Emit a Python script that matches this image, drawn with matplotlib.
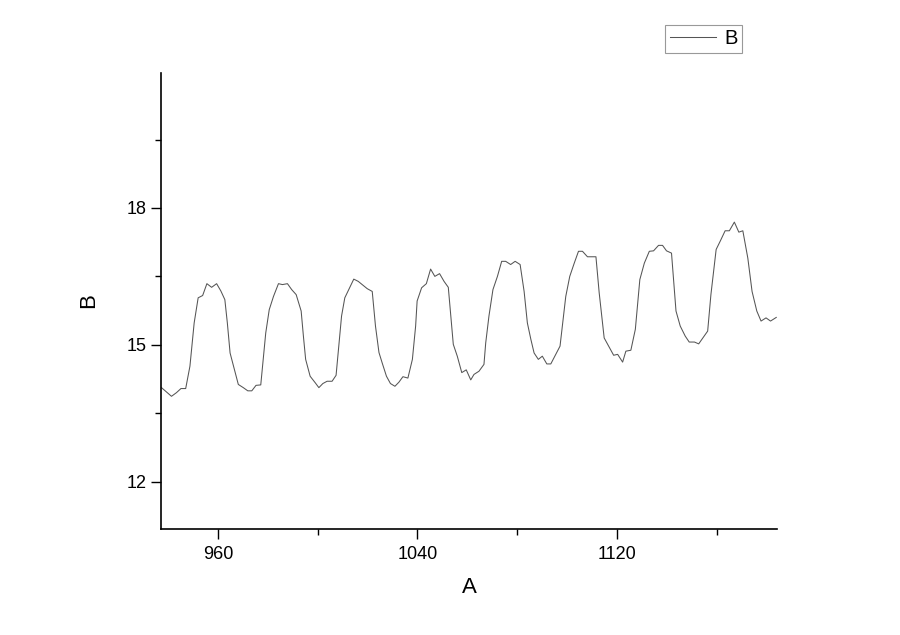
import matplotlib
matplotlib.use("Agg")
import matplotlib.pyplot as plt
from matplotlib.ticker import MultipleLocator

plt.rcParams['font.family'] = ['Liberation Sans', 'DejaVu Sans']

A = [937.4, 941.4, 943.4, 945.2, 947.1, 948.8, 950.5, 952.1, 953.9, 955.6,
     957.5, 959.5, 961.2, 962.8, 963.8, 964.9, 966.6, 968.2, 970.2, 972.0,
     973.6, 975.3, 977.2, 978.2, 979.2, 980.6, 982.3, 984.3, 985.9, 987.9,
     989.6, 991.4, 993.4, 994.3, 995.2, 997.0, 999.0,
     1000.5, 1002.1, 1003.8, 1005.8, 1007.4, 1008.5, 1009.6, 1010.9, 1012.5,
     1014.5, 1016.3, 1017.9, 1019.9, 1021.9, 1023.2, 1024.6, 1025.9, 1027.6,
     1029.2, 1031.0, 1032.6, 1034.2, 1036.2, 1038.0, 1039.3, 1039.9, 1041.7,
     1043.6, 1045.3, 1047.0, 1048.9, 1050.7, 1052.4, 1053.3, 1054.4, 1056.0,
     1057.8, 1059.6, 1061.4,
     1062.7, 1064.7, 1066.7, 1067.4, 1068.7, 1070.3, 1072.1, 1073.8, 1075.4,
     1077.4, 1079.2, 1081.2, 1082.8, 1084.1, 1085.5, 1086.8, 1088.5, 1090.1,
     1091.9, 1093.5, 1095.5, 1097.2, 1098.6, 1099.5, 1101.1, 1102.9, 1104.6,
     1106.2, 1108.2, 1110.0, 1111.6, 1112.9, 1114.9, 1116.7, 1118.7, 1120.3,
     1122.3,
     1123.6, 1125.6, 1127.4, 1129.2, 1131.0, 1133.0, 1134.7, 1136.7, 1138.3,
     1139.9, 1141.9, 1142.8, 1143.7, 1145.4, 1147.4, 1149.0, 1151.1, 1152.8,
     1154.7, 1156.4, 1157.7, 1159.8, 1161.5, 1163.4, 1165.1, 1167.1, 1168.9,
     1170.5, 1172.5, 1174.2, 1176.1, 1177.8, 1179.8, 1181.6, 1183.9]

B = [14.06, 13.87, 13.95, 14.04, 14.04, 14.53, 15.48, 16.03, 16.08, 16.34,
     16.26, 16.34, 16.18, 15.99, 15.48, 14.82, 14.46, 14.13, 14.06, 13.99,
     13.99, 14.11, 14.12, 14.68, 15.26, 15.77, 16.06, 16.34, 16.32, 16.34,
     16.21, 16.10, 15.74, 15.19, 14.68, 14.31, 14.17,
     14.06, 14.15, 14.20, 14.20, 14.33, 14.97, 15.63, 16.03, 16.21,
     16.44, 16.39, 16.32, 16.23, 16.17, 15.41, 14.83, 14.60, 14.31,
     14.15, 14.09, 14.18, 14.30, 14.27, 14.68, 15.41, 15.96, 16.25,
     16.34, 16.66, 16.50, 16.56, 16.39, 16.26, 15.70, 15.01, 14.75,
     14.39, 14.45, 14.23,
     14.35, 14.42, 14.57, 15.04, 15.63, 16.21, 16.50, 16.83, 16.83,
     16.76, 16.83, 16.76, 16.17, 15.48, 15.12, 14.82, 14.68, 14.75,
     14.58, 14.58, 14.79, 14.97, 15.63, 16.06, 16.50, 16.79, 17.05,
     17.05, 16.93, 16.93, 16.93, 16.14, 15.15, 14.97, 14.77, 14.79,
     14.62,
     14.86, 14.88, 15.34, 16.43, 16.79, 17.05, 17.06, 17.18, 17.18,
     17.06, 17.01, 16.39, 15.74, 15.41, 15.19, 15.06, 15.06, 15.02,
     15.17, 15.30, 16.10, 17.09, 17.28, 17.50, 17.50, 17.69, 17.47,
     17.50, 16.90, 16.17, 15.74, 15.52, 15.59, 15.52, 15.60]

x_ticks = [960, 1040, 1120]
y_ticks = [12, 15, 18]

fig = plt.figure(figsize=(9, 6.35), dpi=100)
ax = fig.add_axes([161/900, 1 - 529/635, (777 - 161)/900, (529 - 73)/635])

ax.plot(A, B, color='#555555', lw=0.75, label='B')

ax.set_xlim(937.2, 1184.2)
ax.set_ylim(10.96, 20.96)
ax.set_xticks(x_ticks)
ax.set_yticks(y_ticks)
ax.xaxis.set_minor_locator(MultipleLocator(40))
ax.yaxis.set_minor_locator(MultipleLocator(1.5))

for s in ['top', 'right']:
    ax.spines[s].set_visible(False)
for s in ['left', 'bottom']:
    ax.spines[s].set_linewidth(1.2)
    ax.spines[s].set_color('black')

ax.tick_params(which='major', direction='out', length=7.5, width=1.0, labelsize=13)
ax.tick_params(which='minor', direction='out', length=4.5, width=1.0)
ax.tick_params(axis='x', which='major', pad=4.5)
ax.tick_params(axis='y', which='major', pad=3)

ax.set_xlabel('A', fontsize=16, labelpad=10)
ax.set_ylabel('B', fontsize=16, labelpad=20)

leg = ax.legend(loc='upper right', bbox_to_anchor=(742/900, 1 - 25/635),
                bbox_transform=fig.transFigure, frameon=True, fancybox=False,
                fontsize=14.5, handlelength=2.3, handletextpad=0.4,
                borderpad=0.22, borderaxespad=0)
leg.get_frame().set_edgecolor('#808080')
leg.get_frame().set_linewidth(0.8)

fig.savefig('out.png', dpi=100)
